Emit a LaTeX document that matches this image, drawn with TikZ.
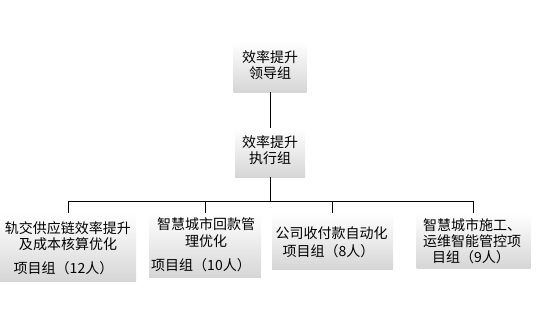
\documentclass[tikz,border=0pt]{standalone}
\usepackage{fontspec}
\setmainfont{Noto Sans CJK SC}
\tikzset{
  box/.style={rectangle, inner sep=0pt, top color=white, middle color=white, bottom color=black!16},
  txt/.style={inner sep=0pt, align=center, font=\fontsize{14}{16.5}\selectfont},
  line/.style={line width=0.9pt}
}
\begin{document}
\begin{tikzpicture}[x=1pt,y=-1pt]
\useasboundingbox (0,0) rectangle (554,330);
% boxes
\node[box, minimum width=73pt, minimum height=50pt] (lead) at (270,67) {};
\node[box, minimum width=70pt, minimum height=49pt] (exec) at (270,152.5) {};
\node[box, minimum width=136pt, minimum height=68pt] (grpA) at (68,247) {};
\node[box, minimum width=112pt, minimum height=64pt] (grpB) at (205,245) {};
\node[box, minimum width=121pt, minimum height=56pt] (grpC) at (332.5,241) {};
\node[box, minimum width=114pt, minimum height=55pt] (grpD) at (473.5,240.5) {};
% texts
\node[txt] (leadtxt) at (270,65) {效率提升\\领导组};
\node[txt] (exectxt) at (270,150) {效率提升\\执行组};
\node[txt] (grpAtxt) at (68,236) {轨交供应链效率提升\\及成本核算优化};
\node[txt] (grpAnum) at (63.5,268) {项目组（12人）};
\node[txt] (grpBtxt) at (206,232.5) {智慧城市回款管\\理优化};
\node[txt] (grpBnum) at (201,265) {项目组（10人）};
\node[txt] (grpCtxt) at (331.5,233) {公司收付款自动化};
\node[txt] (grpCnum) at (328.5,251) {项目组（8人）};
\node[txt, align=left] (grpDtxt) at (472,233) {智慧城市施工、\\运维智能管控项};
\node[txt] (grpDnum) at (471,257) {目组（9人）};
% connectors
\coordinate (bus) at (270,201);
\draw[line] (lead) -- (exec);
\draw[line] (exec) -- (bus);
\foreach \g in {grpA,grpB,grpC,grpD}
  \draw[line] (bus) -| (\g);
\end{tikzpicture}
\end{document}
